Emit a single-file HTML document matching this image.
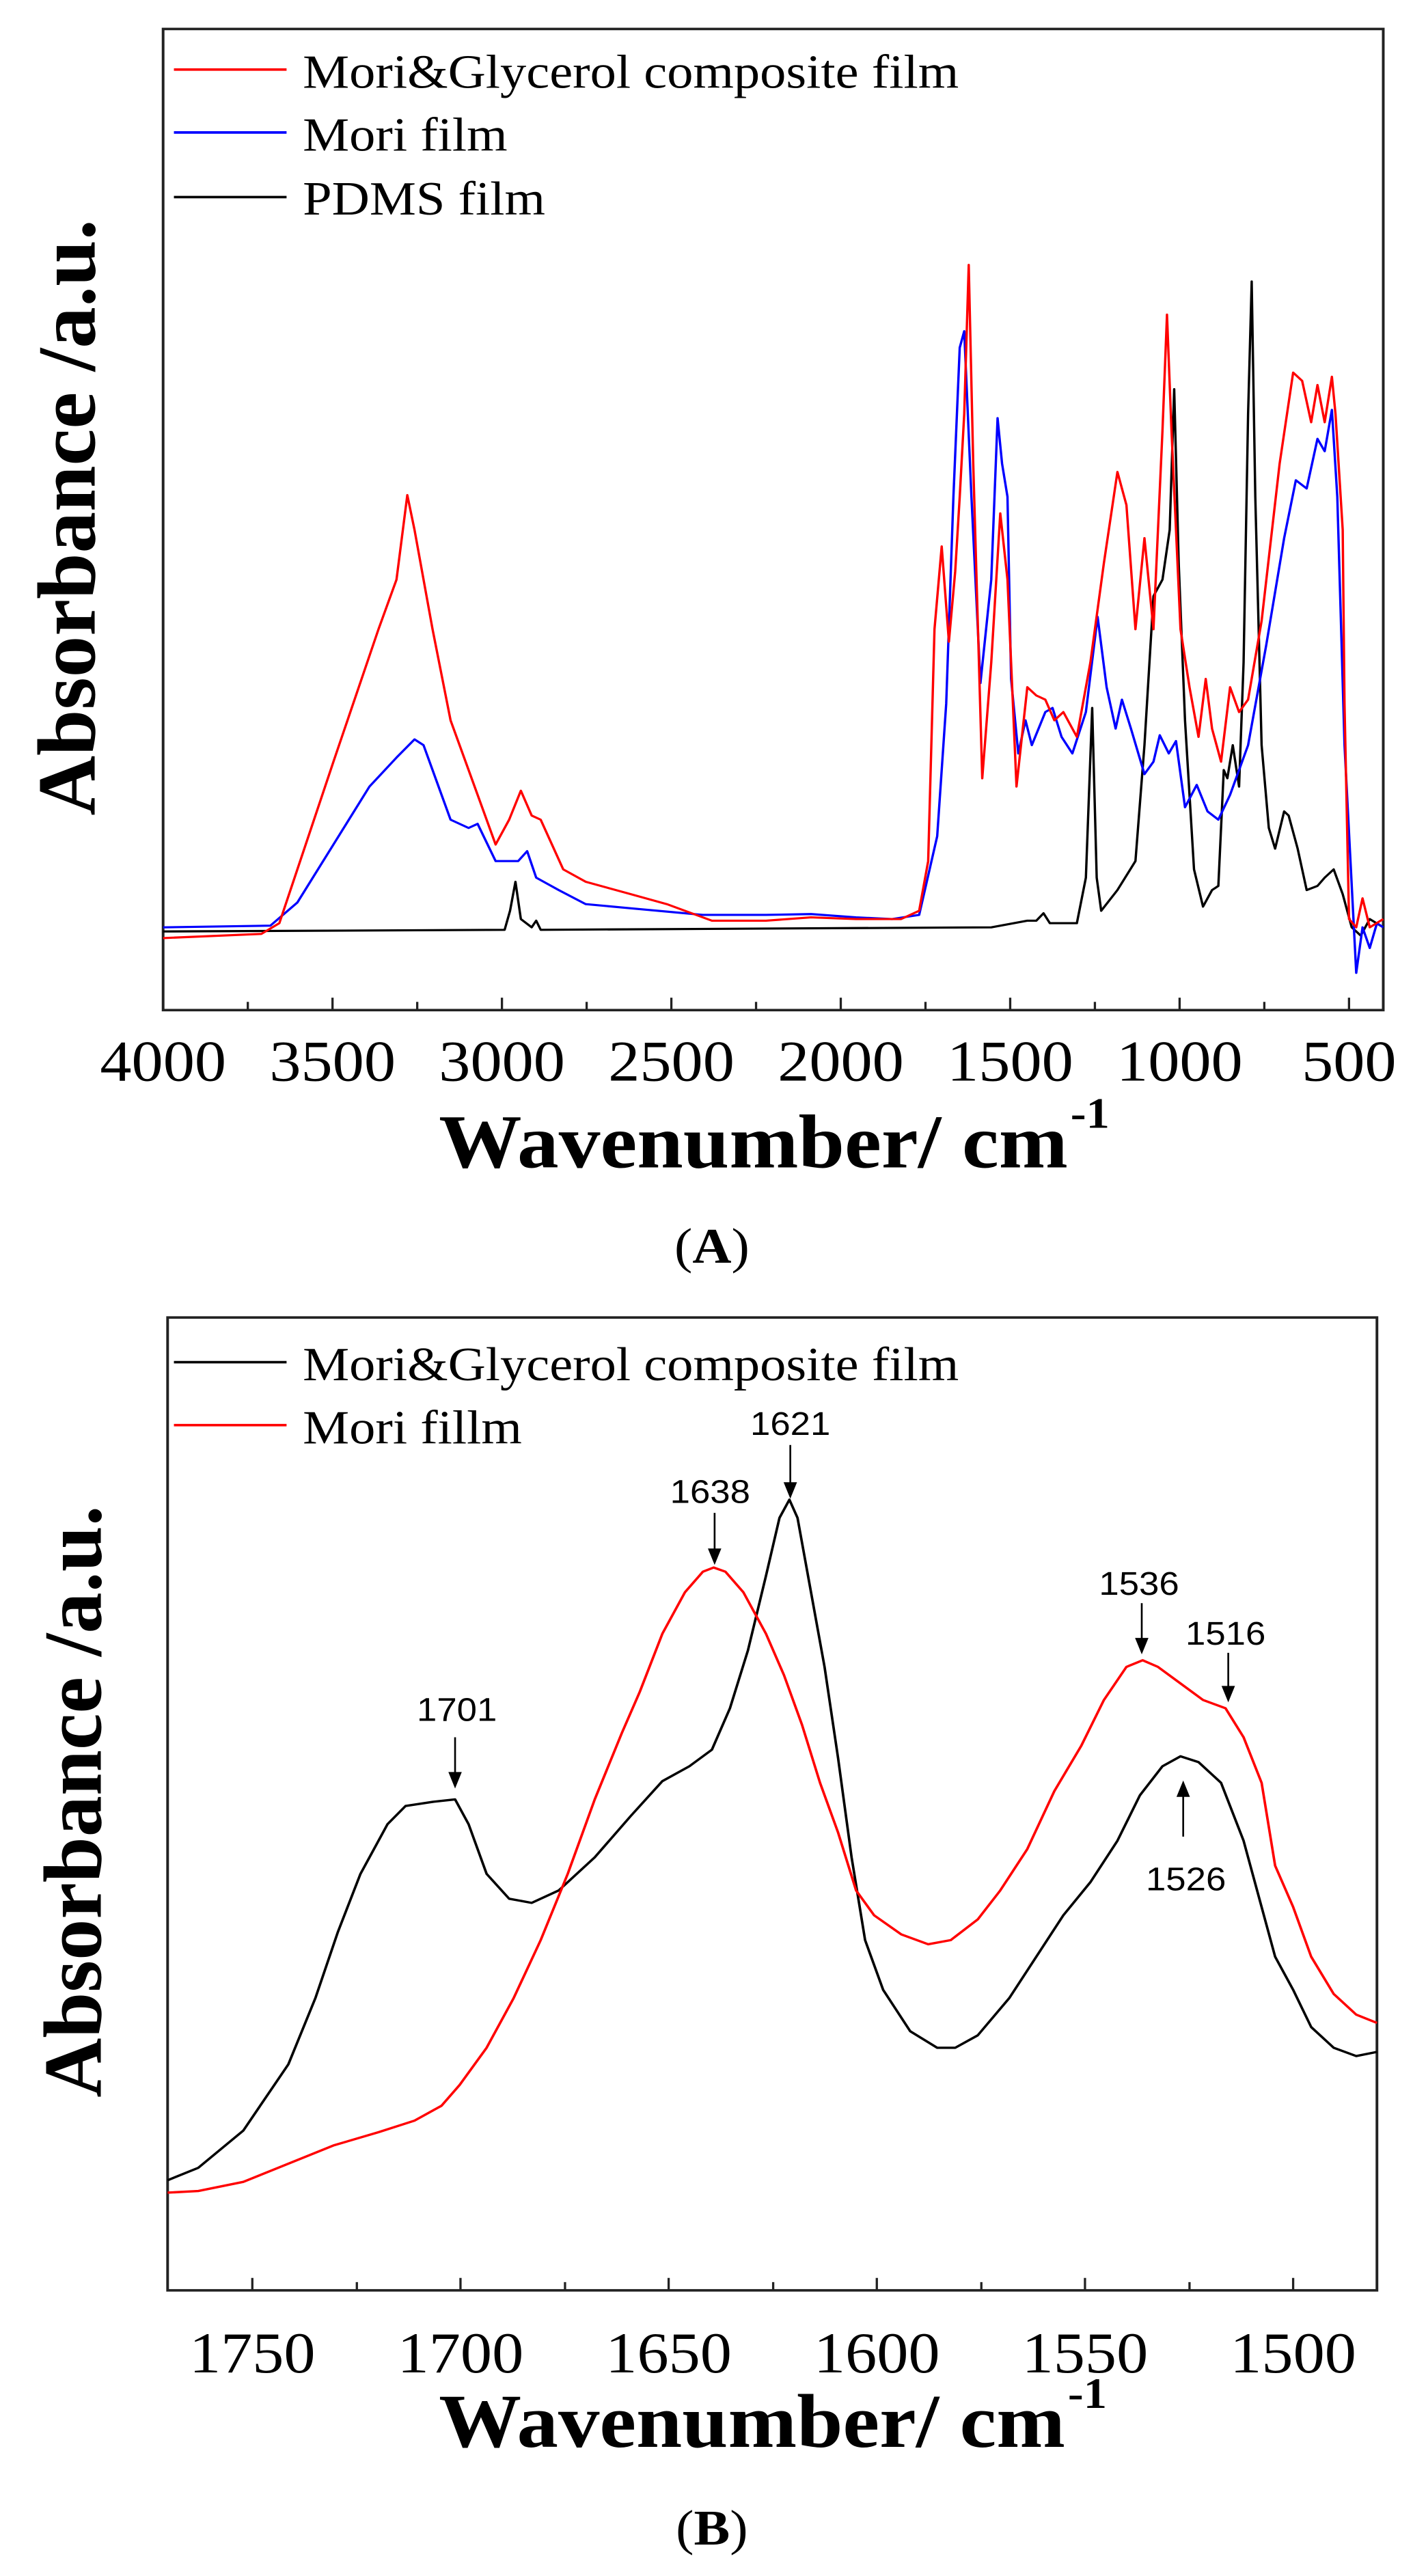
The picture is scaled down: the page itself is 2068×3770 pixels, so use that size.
<!DOCTYPE html>
<html><head><meta charset="utf-8"><style>
html,body{margin:0;padding:0;background:#fff;}
body{width:2068px;height:3770px;position:relative;overflow:hidden;}
svg{position:absolute;left:0;}
text{font-family:"Liberation Serif",serif;}
.t{font-size:70px;text-anchor:middle;}
.lg{font-size:58px;}
.an{font-family:"Liberation Sans",sans-serif;font-size:40px;text-anchor:middle;}
</style></head><body>
<svg style="top:0" width="2068" height="1900" viewBox="0 0 1568 1568" preserveAspectRatio="none">
<rect x="181" y="35" width="1354" height="1185" fill="none" stroke="#222" stroke-width="3"/>
<g stroke="#222" stroke-width="2.5">
<path d="M181 1220v-15M275 1220v-10M369 1220v-15M463 1220v-10M557 1220v-15M651 1220v-10M745 1220v-15M839 1220v-10M933 1220v-15M1027 1220v-10M1121 1220v-15M1215 1220v-10M1309 1220v-15M1403 1220v-10M1497 1220v-15"/>
</g>
<text x="181" y="1305" class="t">4000</text><text x="369" y="1305" class="t">3500</text><text x="557" y="1305" class="t">3000</text><text x="745" y="1305" class="t">2500</text><text x="933" y="1305" class="t">2000</text><text x="1121" y="1305" class="t">1500</text><text x="1309" y="1305" class="t">1000</text><text x="1497" y="1305" class="t">500</text>
<text x="487" y="1410" font-size="92" font-weight="bold" textLength="698" lengthAdjust="spacingAndGlyphs">Wavenumber/ cm</text>
<text x="1188" y="1362" font-size="52" font-weight="bold">-1</text>
<text transform="translate(105,985) rotate(-90)" font-size="92" font-weight="bold" textLength="720" lengthAdjust="spacingAndGlyphs">Absorbance /a.u.</text>
<text x="790" y="1525" font-size="60" text-anchor="middle">(<tspan font-weight="bold">A</tspan>)</text>
<g stroke-width="3" fill="none">
<line x1="193" y1="84" x2="318" y2="84" stroke="#f00"/>
<line x1="193" y1="160" x2="318" y2="160" stroke="#00f"/>
<line x1="193" y1="238" x2="318" y2="238" stroke="#000"/>
</g>
<text x="336" y="106" class="lg">Mori&amp;Glycerol composite film</text>
<text x="336" y="182" class="lg">Mori film</text>
<text x="336" y="259" class="lg">PDMS film</text>
<g fill="none" stroke-width="2.6" stroke-linejoin="round">
<polyline stroke="#000" points="181,1125 560,1123 566,1100 572,1065 578,1110 590,1120 595,1112 600,1123 1100,1120 1140,1112 1150,1112 1158,1103 1165,1115 1195,1115 1205,1060 1212,855 1217,1060 1222,1100 1240,1075 1260,1040 1270,900 1280,720 1290,700 1298,640 1303,470 1308,680 1315,870 1325,1050 1335,1095 1345,1075 1352,1070 1358,930 1362,940 1368,900 1375,950 1380,800 1385,500 1389,340 1393,600 1400,900 1408,1000 1415,1025 1425,980 1430,985 1440,1025 1450,1075 1462,1070 1470,1060 1480,1050 1490,1080 1500,1120 1510,1130 1520,1110 1535,1120"/>
<polyline stroke="#00f" points="181,1120 300,1118 330,1090 370,1020 410,950 440,915 460,893 470,900 500,990 520,1000 530,995 550,1040 575,1040 585,1028 595,1060 620,1075 650,1092 700,1097 780,1105 850,1105 900,1104 950,1108 990,1110 1020,1105 1040,1010 1050,850 1058,600 1065,420 1070,400 1078,600 1088,825 1100,700 1107,505 1112,560 1118,600 1122,820 1130,910 1138,870 1145,900 1160,860 1168,855 1178,890 1190,910 1205,860 1218,745 1228,830 1238,880 1245,845 1255,880 1270,935 1280,920 1287,888 1297,910 1305,895 1315,975 1328,948 1340,980 1352,990 1365,960 1385,900 1405,780 1425,650 1438,580 1450,590 1462,530 1470,545 1478,495 1484,600 1492,900 1505,1175 1512,1120 1520,1145 1528,1115 1535,1120"/>
<polyline stroke="#f00" points="181,1133 290,1128 310,1115 370,920 420,760 440,700 452,598 460,640 480,760 500,870 520,930 550,1020 565,990 578,955 590,985 600,990 625,1050 650,1065 700,1080 740,1092 790,1112 850,1112 900,1108 950,1110 1000,1110 1020,1100 1030,1040 1037,760 1045,660 1053,775 1060,690 1065,600 1070,500 1075,320 1080,560 1090,940 1100,800 1110,620 1118,700 1128,950 1140,830 1150,840 1160,845 1170,870 1180,860 1195,890 1210,800 1225,680 1240,570 1250,610 1260,760 1270,650 1280,760 1290,520 1295,380 1300,520 1310,760 1320,830 1330,890 1338,820 1345,880 1355,920 1365,830 1375,860 1385,845 1400,750 1420,560 1435,450 1445,460 1455,510 1462,465 1470,510 1478,455 1482,500 1490,640 1492,850 1497,1110 1505,1120 1512,1085 1520,1120 1535,1110"/>
</g>
</svg>
<svg style="top:1870px" width="2068" height="1900" viewBox="0 0 1568 1568" preserveAspectRatio="none">
<rect x="186" y="48" width="1342" height="1175" fill="none" stroke="#222" stroke-width="3"/>
<g stroke="#222" stroke-width="2.5">
<path d="M280 1223v-15M396 1223v-10M511 1223v-15M627 1223v-10M742 1223v-15M858 1223v-10M973 1223v-15M1089 1223v-10M1204 1223v-15M1320 1223v-10M1435 1223v-15"/>
</g>
<text x="280" y="1322" class="t">1750</text><text x="511" y="1322" class="t">1700</text><text x="742" y="1322" class="t">1650</text><text x="973" y="1322" class="t">1600</text><text x="1204" y="1322" class="t">1550</text><text x="1435" y="1322" class="t">1500</text>
<text x="487" y="1412" font-size="92" font-weight="bold" textLength="695" lengthAdjust="spacingAndGlyphs">Wavenumber/ cm</text>
<text x="1185" y="1365" font-size="52" font-weight="bold">-1</text>
<text transform="translate(112,990) rotate(-90)" font-size="92" font-weight="bold" textLength="715" lengthAdjust="spacingAndGlyphs">Absorbance /a.u.</text>
<text x="790" y="1530" font-size="60" text-anchor="middle">(<tspan font-weight="bold">B</tspan>)</text>
<line x1="193" y1="102" x2="318" y2="102" stroke="#000" stroke-width="3"/>
<line x1="193" y1="178" x2="318" y2="178" stroke="#f00" stroke-width="3"/>
<text x="336" y="124" class="lg">Mori&amp;Glycerol composite film</text>
<text x="336" y="200" class="lg">Mori fillm</text>
<g fill="none" stroke-width="2.8" stroke-linejoin="round">
<polyline stroke="#000" points="186,1090 220,1075 270,1030 320,950 350,870 375,790 400,720 430,660 450,638 480,633 505,630 520,660 540,720 565,750 590,755 620,740 660,700 700,650 735,608 765,590 790,570 810,520 830,450 850,360 865,290 876,268 885,290 900,380 915,470 930,580 945,700 960,800 980,860 1010,910 1040,930 1060,930 1085,915 1120,870 1150,820 1180,770 1210,730 1240,680 1265,625 1290,590 1310,578 1330,585 1355,610 1380,680 1400,760 1415,820 1435,860 1455,905 1480,930 1505,940 1528,935"/>
<polyline stroke="#f00" points="186,1105 220,1103 270,1092 320,1070 370,1048 420,1032 460,1018 490,1000 510,975 540,930 570,870 600,800 630,720 660,630 690,550 710,500 735,430 760,380 780,355 792,350 805,355 825,380 850,430 870,480 890,540 910,610 930,670 950,740 970,770 1000,793 1030,805 1055,800 1085,775 1110,740 1140,690 1170,620 1200,565 1225,510 1250,470 1268,462 1285,470 1310,490 1335,510 1360,520 1380,555 1400,610 1415,710 1435,760 1455,820 1480,865 1505,890 1528,900"/>
</g>
<g stroke="#000" stroke-width="2" fill="#000">
<line x1="877" y1="202" x2="877" y2="250"/><path d="M871 248h12l-6 16z"/>
<line x1="793" y1="284" x2="793" y2="330"/><path d="M787 328h12l-6 16z"/>
<line x1="505" y1="555" x2="505" y2="600"/><path d="M499 598h12l-6 16z"/>
<line x1="1267" y1="393" x2="1267" y2="438"/><path d="M1261 436h12l-6 16z"/>
<line x1="1363" y1="453" x2="1363" y2="496"/><path d="M1357 494h12l-6 16z"/>
<line x1="1313" y1="675" x2="1313" y2="624"/><path d="M1307 626h12l-6 -16z"/>
</g>
<text x="877" y="190" class="an">1621</text>
<text x="788" y="272" class="an">1638</text>
<text x="507" y="535" class="an">1701</text>
<text x="1264" y="383" class="an">1536</text>
<text x="1360" y="443" class="an">1516</text>
<text x="1316" y="740" class="an">1526</text>
</svg>
</body></html>
